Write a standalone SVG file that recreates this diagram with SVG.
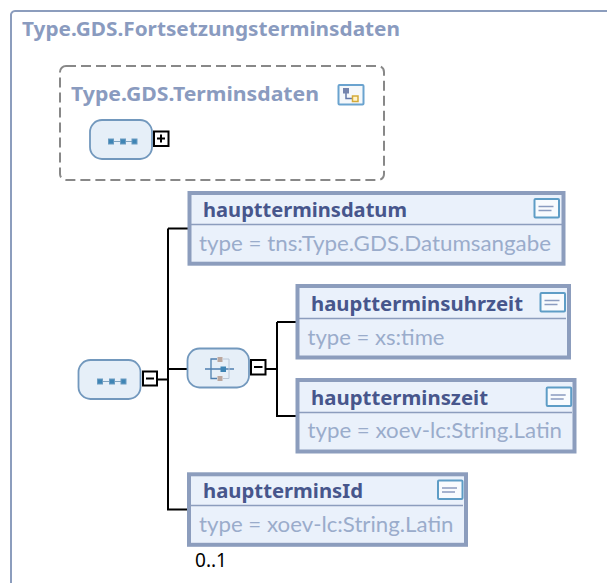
<svg xmlns="http://www.w3.org/2000/svg" width="607" height="583" viewBox="0 0 607 583">
<defs>
<g id="seqicon"><path d="M2 0H27" stroke="#7fa3c0" stroke-width="1"/><g fill="#3f85b5" stroke="#6b9cc2" stroke-width="1"><rect x="0" y="-2.500" width="5" height="5"/><rect x="12" y="-2.500" width="5" height="5"/><rect x="23.500" y="-2.500" width="5" height="5"/></g></g>
<g id="doc"><rect x="1" y="1" width="24.500" height="18.500" rx="1" fill="#f8fbfe" stroke="#5e9dc6" stroke-width="2"/><path d="M5 8.500H20M5 12.500H18" stroke="#8a9cc0" stroke-width="1.400" fill="none"/></g>
</defs>
<style>
.title{font-family:"Noto Sans",sans-serif;font-weight:700;font-size:19.500px;fill:#8a9bbf}
.name{font-family:"Noto Sans",sans-serif;font-weight:700;font-size:19.500px;fill:#47568c}
.type{font-family:Lato,"Open Sans",sans-serif;font-size:22px;fill:#9aaccb}
.el{fill:#eaf1fb;stroke:#8c9dbd;stroke-width:4}
.sep{stroke:#8c9dbd;stroke-width:1.400;fill:none}
.comp{fill:#e6eff8;stroke:#7298bd;stroke-width:1.800}
.exp{fill:#fff;stroke:#000;stroke-width:2}
.sym{stroke:#000;stroke-width:2;fill:none}
.con{stroke:#000;stroke-width:2;fill:none}
</style>
<g id="frame"><path d="M11 583V15.500a4 4 0 0 1 4-4.500H607" fill="#fff" stroke="#8c9dbd" stroke-width="2"/>
<text class="title" x="22" y="36" textLength="378" lengthAdjust="spacingAndGlyphs">Type.GDS.Fortsetzungsterminsdaten</text></g>
<g id="terminsdaten">
<rect x="60" y="66" width="324" height="114" rx="6" fill="none" stroke="#888" stroke-width="2" stroke-dasharray="10 5"/>
<text class="title" x="71" y="101" textLength="248" lengthAdjust="spacingAndGlyphs">Type.GDS.Terminsdaten</text>
<rect x="338.500" y="85" width="25" height="19.500" rx="1" fill="#f5f8fb" stroke="#6aa3cf" stroke-width="2"/>
<path d="M346 91V98.500H355" stroke="#6378a8" stroke-width="1.500" fill="none"/><rect x="343" y="88" width="6" height="5.500" fill="#7484ad"/><rect x="352.500" y="96" width="5.500" height="5.500" fill="#fff4c8" stroke="#d4aa3a" stroke-width="1.500"/>
</g>
<g id="seq1"><rect class="comp" x="90" y="120" width="62" height="39" rx="12"/><use href="#seqicon" x="108.500" y="141.500"/>
<rect class="exp" x="154" y="131.500" width="14.500" height="14.500"/><path class="sym" d="M157 138.500H165M161 134.500V142.500"/></g>
<g id="connectors">
<path class="con" d="M158 379.500H168M168 228.500V509.500H188M168 228.500H188M168 369H187"/>
<path class="con" d="M266 369H277M277 322V416H297M277 322H297"/>
</g>
<g id="seq2"><rect class="comp" x="78.500" y="360" width="62" height="39" rx="12"/><use href="#seqicon" x="97.500" y="381.500"/>
<rect class="exp" x="143" y="371.500" width="14" height="14"/><path class="sym" d="M146 378.500H154"/></g>
<g id="choice"><rect class="comp" x="187.500" y="348.500" width="61.500" height="39" rx="12"/>
<path d="M205 369H234M217 359H211V378.500H217" stroke="#4f7fae" stroke-width="1.300" fill="none"/><path d="M223 359H229V378.500H223" stroke="#b8c6d6" stroke-width="1" fill="none"/>
<rect x="220.500" y="366.500" width="5.500" height="5.500" fill="#3f85b5"/><rect x="217.500" y="357" width="5" height="5" fill="#bba79e"/><rect x="217.500" y="376" width="5" height="5" fill="#bba79e"/>
<rect class="exp" x="251" y="360" width="14.500" height="14.500"/><path class="sym" d="M254 367H262.500"/></g>
<g id="hauptterminsdatum"><rect class="el" x="189.500" y="193" width="374" height="70.700"/><path class="sep" d="M191 224.500H562"/>
<text class="name" x="203" y="216.500" textLength="204" lengthAdjust="spacingAndGlyphs">hauptterminsdatum</text><use href="#doc" x="533.500" y="198"/>
<text class="type" x="199" y="250.500" textLength="352" lengthAdjust="spacingAndGlyphs">type = tns:Type.GDS.Datumsangabe</text></g>
<g id="hauptterminsuhrzeit"><rect class="el" x="297.500" y="286" width="271.500" height="71.500"/><path class="sep" d="M299 318.500H566"/>
<text class="name" x="311" y="310.500" textLength="212" lengthAdjust="spacingAndGlyphs">hauptterminsuhrzeit</text><use href="#doc" x="539.500" y="292"/>
<text class="type" x="307.500" y="345" textLength="137" lengthAdjust="spacingAndGlyphs">type = xs:time</text></g>
<g id="hauptterminszeit"><rect class="el" x="297.500" y="380" width="277" height="71.500"/><path class="sep" d="M299 412.500H572"/>
<text class="name" x="311" y="404.500" textLength="177" lengthAdjust="spacingAndGlyphs">hauptterminszeit</text><use href="#doc" x="545.700" y="386.500"/>
<text class="type" x="307.500" y="438" textLength="254.500" lengthAdjust="spacingAndGlyphs">type = xoev-lc:String.Latin</text></g>
<g id="hauptterminsId"><rect class="el" x="189" y="474.300" width="277" height="70.500"/><path class="sep" d="M191 505.500H463"/>
<text class="name" x="203" y="497.500" textLength="160" lengthAdjust="spacingAndGlyphs">hauptterminsId</text><use href="#doc" x="437" y="479.500"/>
<text class="type" x="199" y="531.500" textLength="254.500" lengthAdjust="spacingAndGlyphs">type = xoev-lc:String.Latin</text>
<text x="195" y="567" font-family="'Noto Sans',sans-serif" font-size="19.500" textLength="32" lengthAdjust="spacingAndGlyphs" fill="#000">0..1</text></g>
</svg>
